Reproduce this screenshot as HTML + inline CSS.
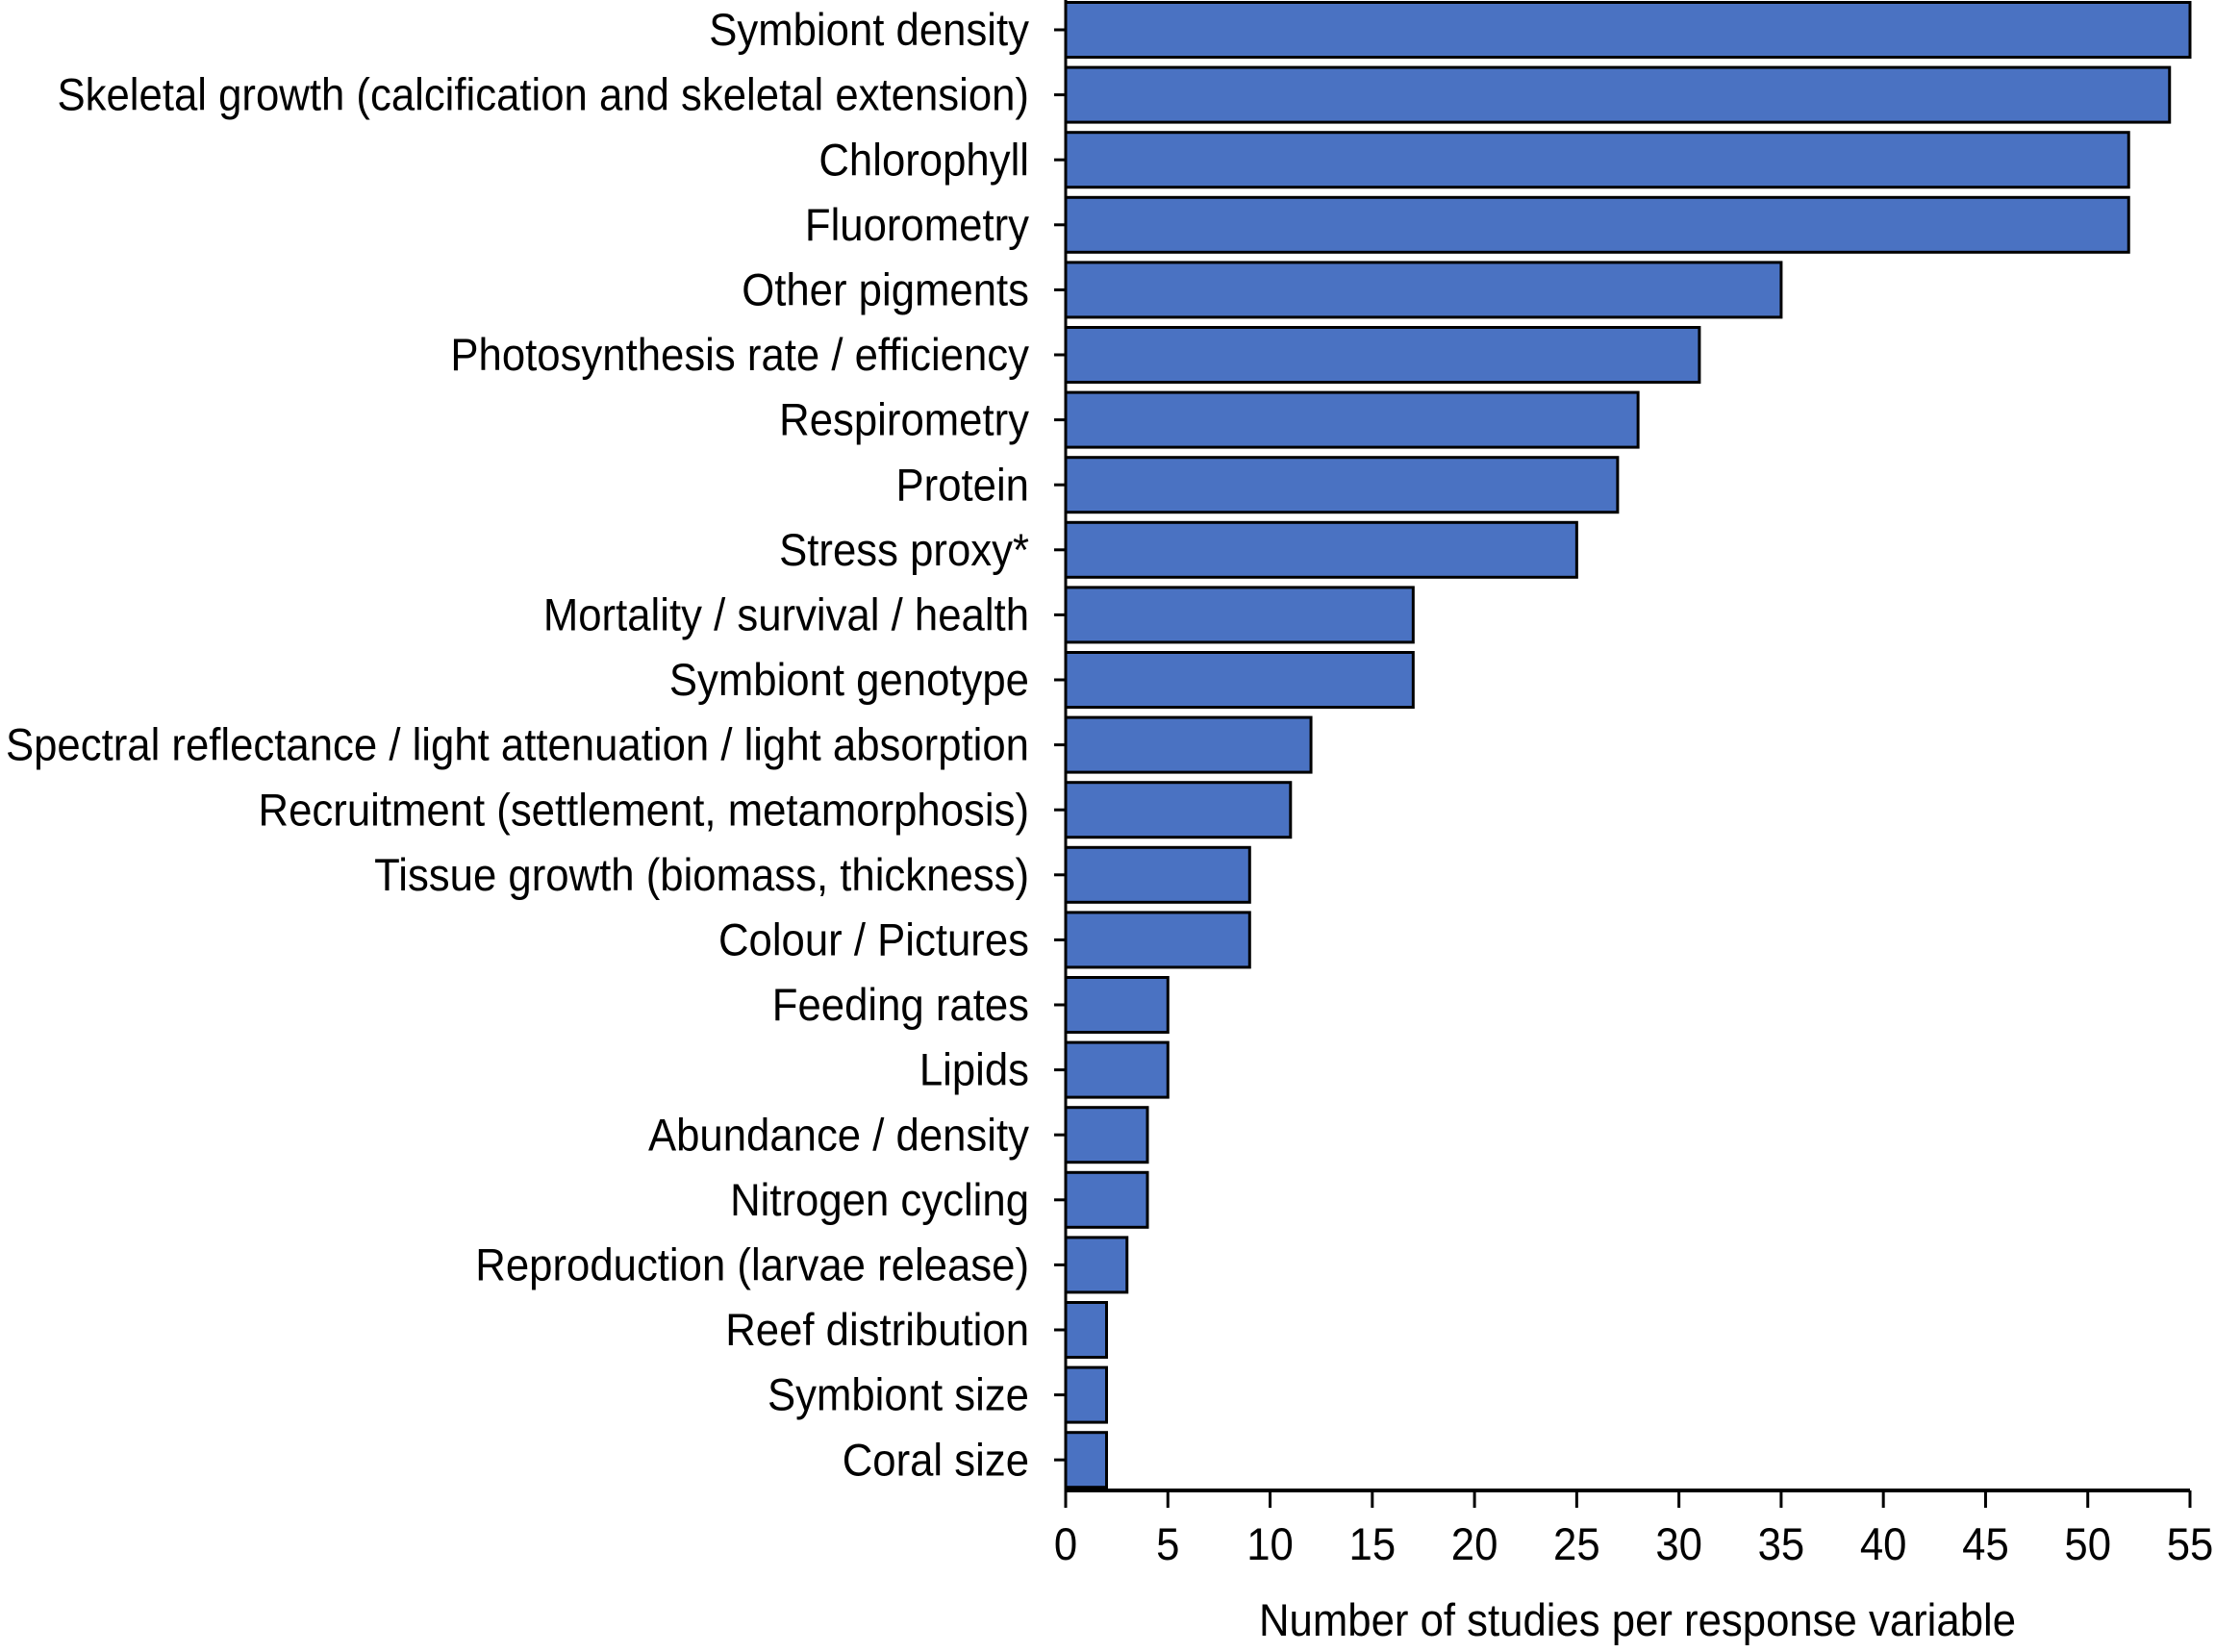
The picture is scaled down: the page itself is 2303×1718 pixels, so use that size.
<!DOCTYPE html>
<html><head><meta charset="utf-8"><style>
html,body{margin:0;padding:0;background:#fff;}
svg text{font-family:"Liberation Sans",Arial,sans-serif;fill:#000;}
</style></head><body>
<svg id="chart" width="2303" height="1713" viewBox="0 0 2303 1713" xmlns="http://www.w3.org/2000/svg"></svg>
<script>
const categories = ["Symbiont density","Skeletal growth (calcification and skeletal extension)","Chlorophyll","Fluorometry","Other pigments","Photosynthesis rate / efficiency","Respirometry","Protein","Stress proxy*","Mortality / survival / health","Symbiont genotype","Spectral reflectance / light attenuation / light absorption","Recruitment (settlement, metamorphosis)","Tissue growth (biomass, thickness)","Colour / Pictures","Feeding rates","Lipids","Abundance / density","Nitrogen cycling","Reproduction (larvae release)","Reef distribution","Symbiont size","Coral size"];
const studyCounts = [55,54,52,52,35,31,28,27,25,17,17,12,11,9,9,5,5,4,4,3,2,2,2];
const xTicks = [0,5,10,15,20,25,30,35,40,45,50,55];

const NS="http://www.w3.org/2000/svg";
const svg=document.getElementById('chart');
const X0=1108,X1=2277,XMAX=55,AXY=1550,TOP=0,PITCH=67.6,BH=57;
const xs=v=>X0+(X1-X0)*v/XMAX;
const yc=i=>TOP+31+i*PITCH;
function mk(t,a){const e=document.createElementNS(NS,t);for(const k in a)e.setAttribute(k,a[k]);svg.appendChild(e);return e;}

categories.forEach((c,i)=>{
  const b=mk('rect',{x:xs(0),y:yc(i)-BH/2,width:xs(studyCounts[i])-xs(0),height:BH,fill:'#4a72c2',stroke:'#000','stroke-width':3});
  
  
  const tk=mk('line',{x1:X0-12,x2:X0,y1:yc(i),y2:yc(i),stroke:'#000','stroke-width':3});
  
  
  const t=mk('text',{x:0,y:0,'font-size':47,'text-anchor':'end','dominant-baseline':'central',transform:`translate(${X0-38},${yc(i)}) scale(0.93,1)`});
  t.textContent=c;
  
  
});
const ya=mk('line',{x1:X0,x2:X0,y1:0,y2:AXY,stroke:'#000','stroke-width':3});


const xa=mk('line',{x1:X0,x2:X1,y1:AXY,y2:AXY,stroke:'#000','stroke-width':4});


xTicks.forEach(v=>{
  const l=mk('line',{x1:xs(v),x2:xs(v),y1:AXY,y2:AXY+18,stroke:'#000','stroke-width':3});
  
  
  const t=mk('text',{x:0,y:0,'font-size':47,'text-anchor':'middle','dominant-baseline':'central',transform:`translate(${xs(v)},${1606}) scale(0.93,1)`});
  t.textContent=v;
  
  
});
const tt=mk('text',{x:0,y:0,'font-size':47,'text-anchor':'middle','dominant-baseline':'central',transform:`translate(${(X0+X1)/2+10},1685) scale(0.93,1)`});
tt.textContent='Number of studies per response variable';


</script>
</body></html>
